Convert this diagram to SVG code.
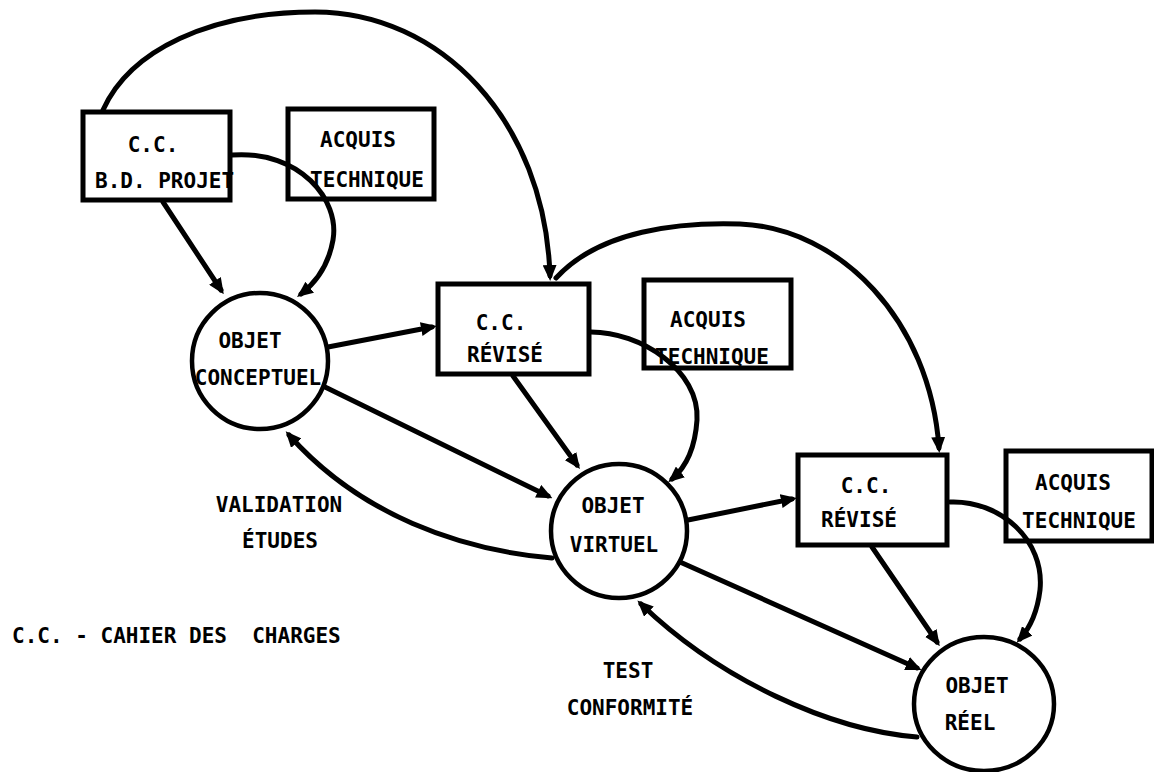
<svg xmlns="http://www.w3.org/2000/svg" width="1154" height="772" viewBox="0 0 1154 772">
  <defs>
    <marker id="arrow" markerUnits="userSpaceOnUse" markerWidth="16" markerHeight="14" refX="11" refY="7" orient="auto">
      <path d="M0,0 L16,7 L0,14 z" fill="#000"/>
    </marker>
    <style>
      .box { fill: #fff; stroke: #000; stroke-width: 5; }
      .obj { fill: #fff; stroke: #000; stroke-width: 4.5; }
      .edge { fill: none; stroke: #000; stroke-width: 5; stroke-linecap: round; marker-end: url(#arrow); }
      text { font-family: "DejaVu Sans Mono", "Liberation Mono", monospace; font-size: 21px; font-weight: bold; fill: #000; }
      .c { text-anchor: middle; }
    </style>
  </defs>
  <rect width="1154" height="772" fill="#fff"/>

  <!-- stage 1 -->
  <g id="cc-bd-projet">
    <rect class="box" x="83" y="112" width="147" height="88"/>
    <text x="153" y="152" class="c">C.C.</text>
    <text x="95" y="188">B.D. PROJET</text>
  </g>
  <g id="acquis-technique-1">
    <rect class="box" x="288" y="109" width="146" height="90"/>
    <text x="358" y="147" class="c">ACQUIS</text>
    <text x="367" y="187" class="c">TECHNIQUE</text>
  </g>
  <g id="objet-conceptuel">
    <ellipse class="obj" cx="260" cy="361" rx="68" ry="68"/>
    <text x="250" y="348" class="c">OBJET</text>
    <text x="258" y="385" class="c">CONCEPTUEL</text>
  </g>

  <!-- stage 2 -->
  <g id="cc-revise-1">
    <rect class="box" x="438" y="284" width="151" height="90"/>
    <text x="501" y="330" class="c">C.C.</text>
    <text x="505" y="362" class="c">RÉVISÉ</text>
  </g>
  <g id="acquis-technique-2">
    <rect class="box" x="644" y="280" width="147" height="88"/>
    <text x="708" y="327" class="c">ACQUIS</text>
    <text x="712" y="364" class="c">TECHNIQUE</text>
  </g>
  <g id="objet-virtuel">
    <ellipse class="obj" cx="619" cy="531" rx="68" ry="67"/>
    <text x="613" y="513" class="c">OBJET</text>
    <text x="614" y="552" class="c">VIRTUEL</text>
  </g>

  <!-- stage 3 -->
  <g id="cc-revise-2">
    <rect class="box" x="798" y="455" width="149" height="90"/>
    <text x="866" y="493" class="c">C.C.</text>
    <text x="859" y="527" class="c">RÉVISÉ</text>
  </g>
  <g id="acquis-technique-3">
    <rect class="box" x="1006" y="451" width="146" height="90"/>
    <text x="1073" y="490" class="c">ACQUIS</text>
    <text x="1079" y="528" class="c">TECHNIQUE</text>
  </g>
  <g id="objet-reel">
    <ellipse class="obj" cx="984" cy="704" rx="70" ry="67"/>
    <text x="977" y="693" class="c">OBJET</text>
    <text x="970" y="730" class="c">RÉEL</text>
  </g>

  <!-- connectors, drawn over the nodes so the curves cross the knowledge boxes -->
  <g id="connectors">
    <!-- C.C. B.D. projet to first revised C.C. (long arc over the top) -->
    <path class="edge" d="M103,110 C130,50 210,12 315,12 C440,12 545,120 550,276"/>
    <!-- first revised C.C. to second revised C.C. -->
    <path class="edge" d="M556,278 C600,230 680,222 740,224 C840,228 930,320 939,448"/>
    <!-- into objet conceptuel -->
    <path class="edge" d="M163,202 L221,290"/>
    <path class="edge" d="M232,155 C300,150 340,200 333,240 C328,268 314,284 301,294"/>
    <!-- objet conceptuel outputs -->
    <path class="edge" d="M328,347 L432,327"/>
    <path class="edge" d="M325,387 L548,496"/>
    <!-- validation études (back to objet conceptuel) -->
    <path class="edge" d="M552,558 C460,550 360,515 289,435"/>
    <!-- into objet virtuel -->
    <path class="edge" d="M513,376 L577,465"/>
    <path class="edge" d="M591,332 C640,332 700,370 697,420 C695,450 685,468 672,479"/>
    <!-- objet virtuel outputs -->
    <path class="edge" d="M688,520 L792,499"/>
    <path class="edge" d="M680,562 L917,668"/>
    <!-- test conformité (back to objet virtuel) -->
    <path class="edge" d="M917,737 C830,730 720,680 641,604"/>
    <!-- into objet réel -->
    <path class="edge" d="M872,547 L937,642"/>
    <path class="edge" d="M950,502 C1000,500 1045,540 1040,590 C1037,615 1028,630 1020,639"/>
  </g>

  <!-- edge labels and legend -->
  <g id="labels">
    <text x="279" y="512" class="c">VALIDATION</text>
    <text x="280" y="548" class="c">ÉTUDES</text>
    <text x="628" y="678" class="c">TEST</text>
    <text x="630" y="715" class="c">CONFORMITÉ</text>
    <text x="12" y="643" xml:space="preserve">C.C. - CAHIER DES  CHARGES</text>
  </g>
</svg>
